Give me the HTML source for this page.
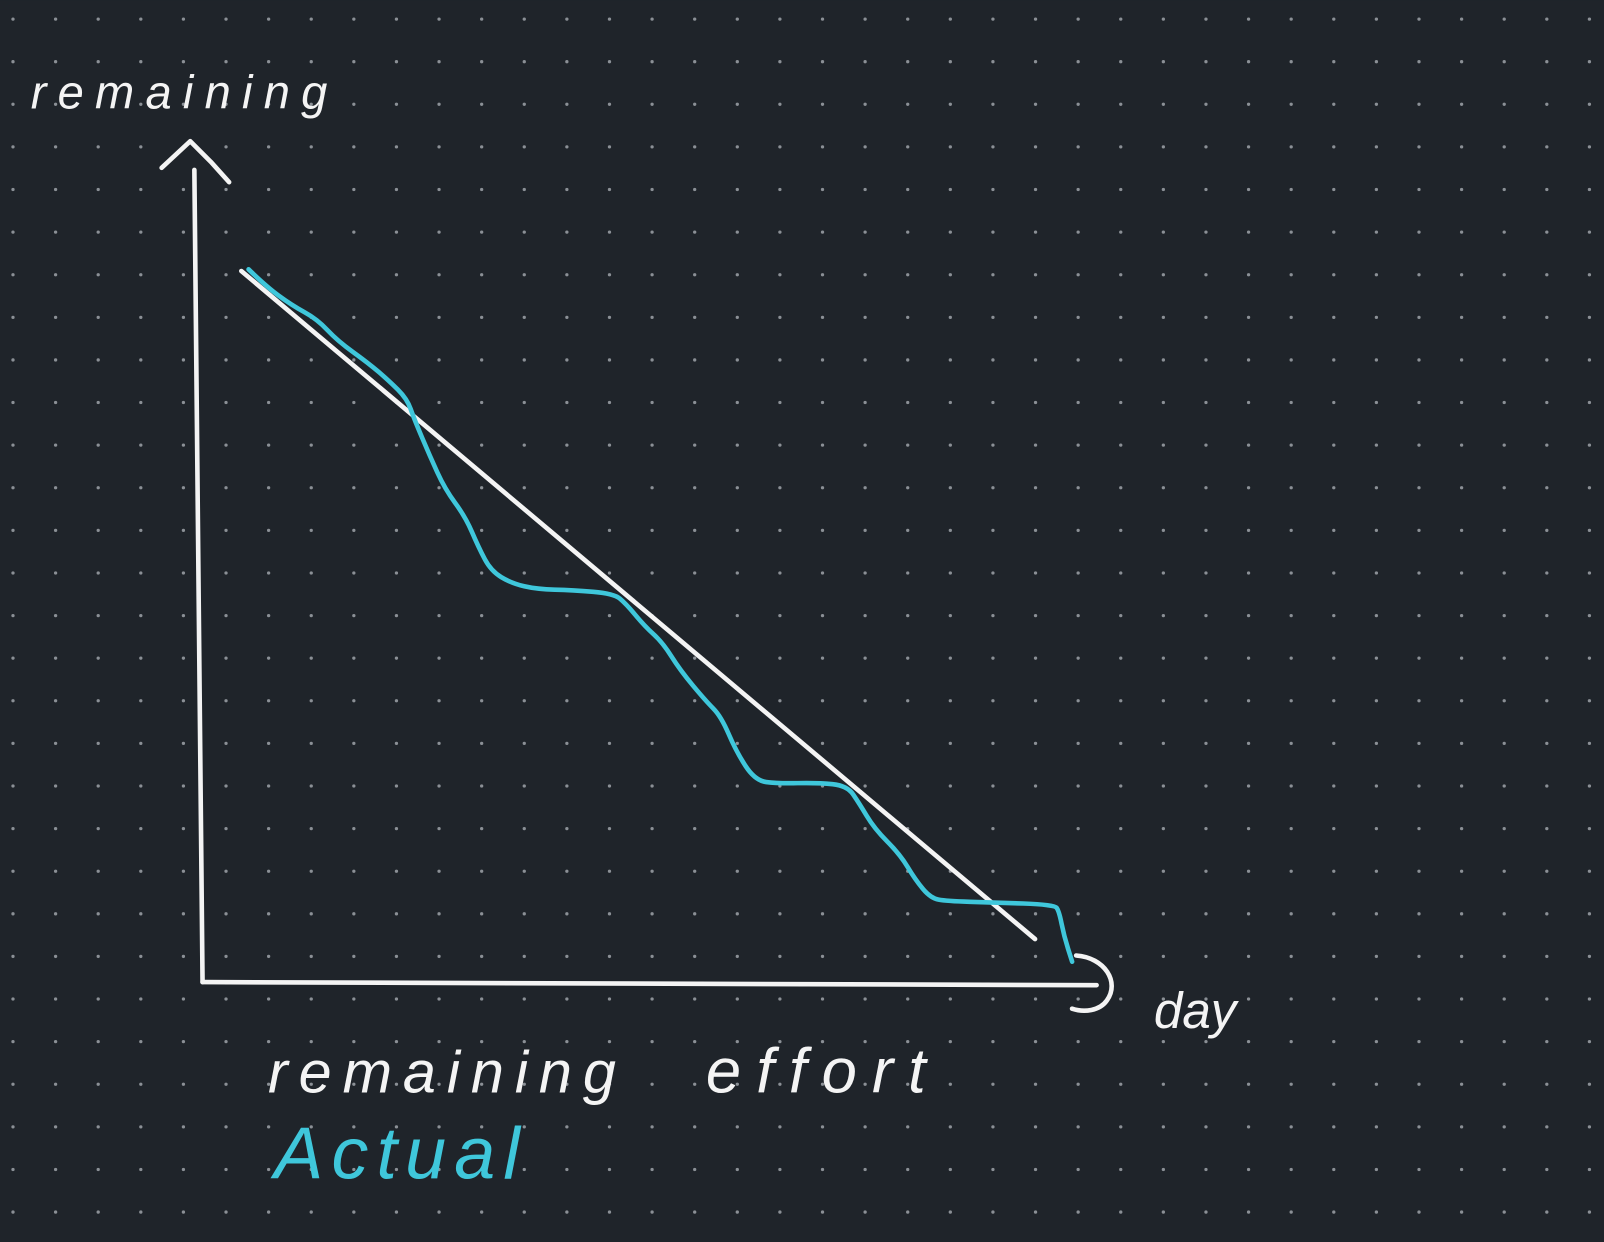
<!DOCTYPE html>
<html><head><meta charset="utf-8"><style>
html,body{margin:0;padding:0;background:#1f242a;}
svg{display:block;}
text{font-family:"Liberation Sans",sans-serif;font-style:italic;}
</style></head><body>
<svg id="chart" width="1604" height="1242" viewBox="0 0 1568 1214" xmlns="http://www.w3.org/2000/svg">
<rect width="1568" height="1214" fill="#1f242a"/>
<g id="dots"></g>
<g fill="none" stroke="#f4f4f4" stroke-width="4.5" stroke-linecap="round" stroke-linejoin="round">
<path d="M190 166 L198 960"/>
<path d="M158 164 L186 138 L206 158 L224 178"/>
</g>
<g fill="none" stroke="#f4f4f4" stroke-width="4.5" stroke-linecap="round" stroke-linejoin="round">
<path d="M198 960 L1072 963"/>
<path d="M1052 934 C1080 936 1095 960 1082 978 C1075 988 1060 990 1048 986"/>
</g>
<g id="series"></g>
<text x="30" y="106" font-size="46" fill="#f4f4f4" textLength="290" lengthAdjust="spacing">remaining</text>
<text x="1128" y="1005" font-size="50" fill="#f4f4f4">day</text>
<text x="262" y="1068" font-size="58" fill="#f4f4f4" textLength="340" lengthAdjust="spacing">remaining</text>
<text x="690" y="1068" font-size="62" fill="#f4f4f4" textLength="215" lengthAdjust="spacing">effort</text>
<text x="268" y="1152" font-size="72" fill="#3fc7db" letter-spacing="8">Actual</text>
</svg>
<script>
const idealDays = [0.91, 19.54];
const idealRemaining = [16.69, 1.01];
const actualDays = [1.08,1.49,2.09,2.69,3.17,3.89,4.37,4.80,4.97,5.33,5.69,6.17,6.48,6.77,7.25,7.85,8.69,9.65,9.94,10.37,10.80,11.21,11.81,12.17,12.53,12.97,13.49,14.45,15.13,15.41,15.77,16.37,16.73,17.09,17.46,18.54,19.98,20.10,20.22,20.41];
const actualRemaining = [16.73,16.33,15.89,15.56,15.05,14.53,14.12,13.69,13.21,12.36,11.57,10.92,10.20,9.65,9.36,9.22,9.20,9.12,8.88,8.36,7.97,7.32,6.60,6.24,5.40,4.73,4.66,4.68,4.61,4.20,3.60,3.00,2.40,1.97,1.90,1.87,1.82,1.68,1.08,0.48];

const NS = "http://www.w3.org/2000/svg";
const UNIT = 41.65;
function xScale(d){ return 198 + d * UNIT; }
function yScale(r){ return 960 - r * UNIT; }

const dots = document.getElementById('dots');
for (let i = 0; i < 38; i++) {
  for (let j = 0; j < 30; j++) {
    const c = document.createElementNS(NS, 'circle');
    c.setAttribute('cx', 12.7 + i * UNIT);
    c.setAttribute('cy', 18.6 + j * UNIT);
    c.setAttribute('r', 1.6);
    c.setAttribute('fill', '#8b9096');
    dots.appendChild(c);
  }
}

function smoothPath(xs, ys){
  const p = xs.map((d,i)=>[xScale(d), yScale(ys[i])]);
  let s = 'M' + p[0][0] + ' ' + p[0][1];
  for (let i = 1; i < p.length - 1; i++) {
    const mx = (p[i][0] + p[i+1][0]) / 2, my = (p[i][1] + p[i+1][1]) / 2;
    s += ' Q' + p[i][0] + ' ' + p[i][1] + ' ' + mx + ' ' + my;
  }
  const l = p[p.length-1];
  s += ' L' + l[0] + ' ' + l[1];
  return s;
}

const series = document.getElementById('series');
const ideal = document.createElementNS(NS, 'path');
ideal.setAttribute('d', smoothPath(idealDays, idealRemaining));
ideal.setAttribute('fill', 'none');
ideal.setAttribute('stroke', '#f4f4f4');
ideal.setAttribute('stroke-width', '4.5');
ideal.setAttribute('stroke-linecap', 'round');


series.appendChild(ideal);

const actual = document.createElementNS(NS, 'path');
actual.setAttribute('d', smoothPath(actualDays, actualRemaining));
actual.setAttribute('fill', 'none');
actual.setAttribute('stroke', '#3fc7db');
actual.setAttribute('stroke-width', '4.5');
actual.setAttribute('stroke-linecap', 'round');
actual.setAttribute('stroke-linejoin', 'round');


series.appendChild(actual);
</script>
</body></html>
